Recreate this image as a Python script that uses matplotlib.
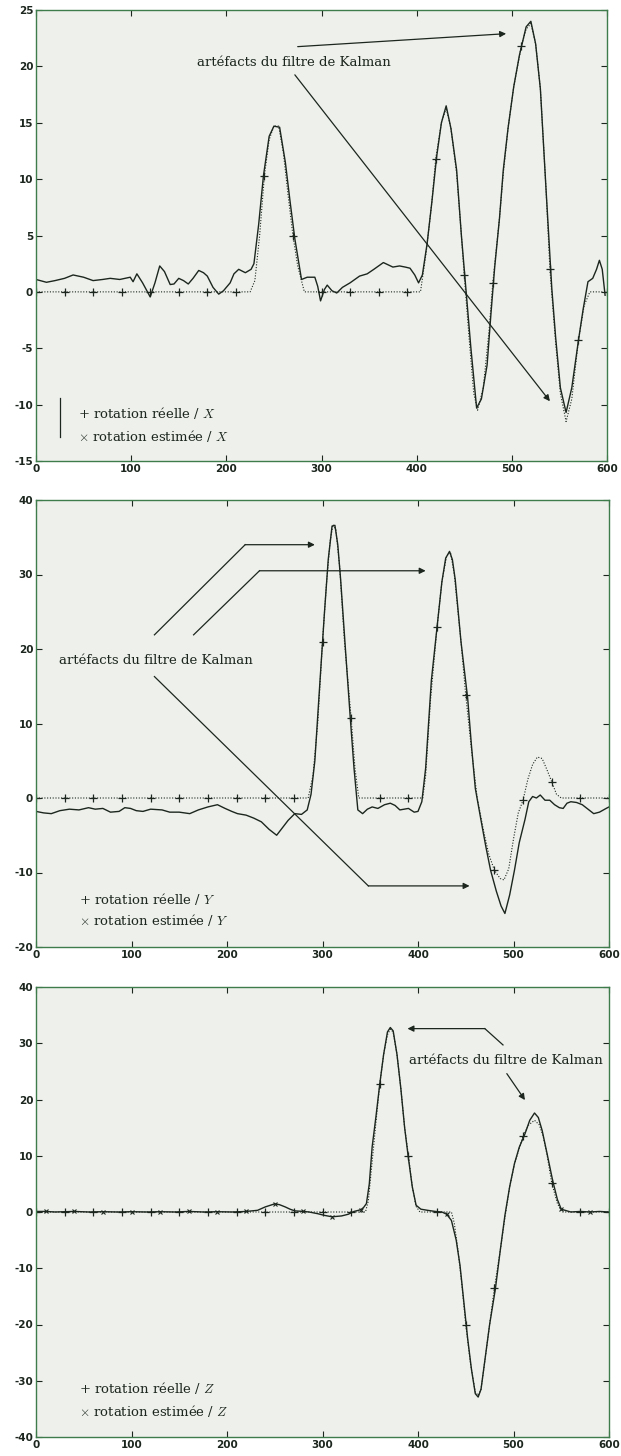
import matplotlib
matplotlib.use('Agg')
import matplotlib.pyplot as plt

plt.rcParams['axes.unicode_minus'] = False
plt.rcParams['mathtext.fontset'] = 'cm'

# ---- axe X ----
rx1 = [0, 30, 60, 90, 120, 150, 180, 210, 225, 230, 235, 240, 245, 250, 255, 260, 265, 270, 275, 282,
       300, 330, 360, 390, 404, 410, 416, 420, 426, 431, 436, 442, 447, 450, 455, 460, 464, 470, 476, 480,
       487, 491, 496, 502, 510, 515, 520, 525, 530, 536, 540, 546, 551, 557, 563, 570, 576, 582, 600]
ry1 = [0, 0, 0, 0, 0, 0, 0, 0, 0, 1.0, 5.0, 10.3, 13.5, 14.7, 14.7, 12.3, 8.5, 5.0, 2.3, 0,
       0, 0, 0, 0, 0, 3.5, 8.0, 11.8, 15.0, 16.3, 14.5, 10.5, 5.0, 1.5, -4.0, -9.0, -10.5, -8.5, -3.5, 0.8,
       6.5, 10.5, 14.5, 18.2, 21.8, 23.3, 23.8, 22.0, 18.0, 9.0, 2.0, -4.5, -9.0, -11.5, -9.5, -4.3, -1.2, 0, 0]

ex1 = [0, 11, 20, 30, 39, 50, 60, 70, 78, 88, 99, 102, 106, 112, 120, 125, 130, 135, 141, 145,
       150, 155, 160, 165, 171, 176, 180, 186, 192, 197, 204, 208, 213, 220, 226, 229, 234, 239, 245, 250,
       256, 262, 267, 272, 279, 285, 293, 296, 299, 303, 306, 311, 316, 322, 330, 340, 348, 355, 360, 365,
       370, 375, 382, 388, 393, 398, 402, 406, 411, 416, 421, 426, 431, 436, 442, 447, 452, 457, 463, 468,
       474, 478, 482, 487, 491, 496, 502, 508, 515, 520, 525, 530, 536, 542, 546, 551, 557, 563, 570, 575,
       580, 585, 589, 592, 595, 598]
ey1 = [1.1, 0.85, 1.0, 1.2, 1.5, 1.3, 1.0, 1.1, 1.2, 1.1, 1.3, 0.9, 1.6, 0.8, -0.45, 0.8, 2.3, 1.8, 0.65, 0.7,
       1.2, 1.0, 0.7, 1.2, 1.9, 1.7, 1.4, 0.4, -0.2, 0.1, 0.8, 1.6, 2.0, 1.7, 2.0, 2.5, 6.0, 10.3, 13.8, 14.7,
       14.6, 11.5, 8.0, 4.7, 1.1, 1.3, 1.3, 0.5, -0.8, 0.2, 0.6, 0.1, -0.1, 0.4, 0.8, 1.4, 1.6, 2.0, 2.3, 2.6,
       2.4, 2.2, 2.3, 2.2, 2.1, 1.5, 0.8, 1.5, 4.3, 8.0, 12.0, 15.0, 16.5, 14.5, 10.8, 5.0, 0.0, -5.0, -10.3, -9.5,
       -6.5, -2.0, 2.2, 6.5, 10.8, 14.5, 18.2, 21.0, 23.5, 24.0, 22.0, 18.0, 9.0, 0.3, -4.0, -8.5, -10.7, -8.5, -4.3, -1.5,
       0.9, 1.2, 2.0, 2.8, 2.0, -0.3]

# ---- axe Y ----
rx2 = [0, 30, 60, 90, 120, 150, 180, 210, 240, 270, 285, 290, 295, 300, 304, 308, 311, 314, 318, 323,
       330, 334, 338, 360, 390, 405, 408, 413, 420, 425, 430, 434, 438, 445, 450, 456, 462, 468, 474, 480,
       486, 490, 495, 500, 505, 510, 515, 520, 525, 530, 535, 540, 545, 550, 570, 600]
ry2 = [0, 0, 0, 0, 0, 0, 0, 0, 0, 0, 0, 3.0, 10.0, 21.0, 28.5, 34.5, 36.7, 36.0, 31.0, 21.0,
       10.7, 4.0, 0, 0, 0, 0, 3.0, 13.0, 23.0, 29.0, 32.5, 33.0, 30.0, 21.0, 13.8, 6.5, 0, -4.0, -7.5, -9.7,
       -10.8, -11.0, -9.5, -5.5, -2.0, -0.3, 2.5, 4.5, 5.5, 5.3, 3.8, 2.2, 0.5, 0, 0, 0]

ex2 = [0, 8, 16, 25, 35, 45, 55, 62, 70, 78, 87, 93, 99, 105, 112, 120, 132, 140, 150, 161,
       170, 180, 190, 198, 205, 211, 220, 228, 236, 244, 252, 258, 264, 271, 278, 284, 288, 292, 296, 302,
       306, 310, 313, 316, 319, 324, 329, 333, 337, 342, 347, 352, 358, 365, 371, 376, 381, 390, 396, 400,
       404, 408, 414, 420, 425, 429, 433, 436, 439, 445, 452, 456, 460, 466, 471, 476, 482, 487, 491, 496,
       501, 506, 512, 516, 520, 524, 528, 533, 538, 543, 548, 552, 556, 560, 566, 572, 578, 584, 590, 597, 600]
ey2 = [-1.8, -2.0, -2.1, -1.7, -1.5, -1.6, -1.3, -1.5, -1.4, -1.9, -1.8, -1.3, -1.4, -1.7, -1.8, -1.5, -1.6, -1.9, -1.9, -2.1,
       -1.6, -1.2, -0.9, -1.4, -1.8, -2.1, -2.3, -2.7, -3.2, -4.2, -5.0, -4.0, -3.0, -2.1, -2.2, -1.6, 0.5, 5.0, 13.0, 24.8,
       32.0, 36.5, 36.6, 34.0, 29.3, 20.0, 10.9, 4.0, -1.6, -2.1, -1.5, -1.2, -1.4, -0.9, -0.7, -1.0, -1.6, -1.4, -1.9, -1.8,
       -0.5, 4.0, 15.8, 23.0, 29.0, 32.2, 33.1, 32.0, 29.3, 21.0, 13.4, 7.0, 1.3, -3.0, -6.5, -9.7, -12.5, -14.5, -15.5, -13.0,
       -9.7, -6.0, -2.9, -0.5, 0.2, 0.0, 0.4, -0.3, -0.3, -0.9, -1.3, -1.4, -0.7, -0.5, -0.6, -0.9, -1.5, -2.1, -1.9, -1.4, -1.2]

# ---- axe Z ----
rx3 = [0, 30, 60, 90, 120, 150, 180, 210, 240, 270, 300, 330, 345, 348, 352, 356, 360, 364, 368, 371,
       374, 378, 382, 386, 390, 394, 398, 402, 420, 435, 438, 442, 446, 450, 455, 460, 463, 466, 470, 475,
       480, 486, 491, 496, 501, 506, 510, 516, 522, 527, 531, 535, 540, 546, 551, 570, 600]
ry3 = [0, 0, 0, 0, 0, 0, 0, 0, 0, 0, 0, 0, 0, 2.0, 9.0, 16.0, 22.8, 28.0, 31.5, 32.5,
       32.0, 28.0, 22.0, 15.0, 10.0, 4.5, 1.0, 0, 0, 0, -2.0, -7.0, -13.0, -20.0, -27.0, -32.0, -32.6, -31.5, -26.5, -20.0,
       -13.5, -7.0, -1.0, 4.5, 8.5, 11.3, 13.5, 15.5, 16.3, 15.5, 13.5, 10.3, 5.2, 1.5, 0, 0, 0]

ex3 = [0, 10, 20, 40, 55, 70, 85, 100, 115, 130, 145, 160, 175, 190, 205, 220, 232, 240, 250, 255,
       261, 266, 271, 280, 286, 295, 302, 310, 320, 327, 333, 340, 343, 346, 349, 352, 356, 360, 364, 368,
       371, 374, 378, 382, 386, 390, 394, 398, 403, 410, 418, 425, 430, 435, 440, 444, 448, 452, 456, 460,
       463, 466, 470, 475, 481, 486, 491, 496, 501, 506, 512, 517, 522, 526, 530, 535, 541, 546, 550, 560,
       570, 580, 590, 600]
ey3 = [0.1, 0.1, 0.0, 0.1, 0.0, 0.05, 0.0, 0.05, 0.0, 0.05, 0.0, 0.1, 0.0, 0.05, 0.0, 0.1, 0.3, 0.9, 1.45, 1.3,
       0.9, 0.5, 0.2, 0.1, 0.0, -0.3, -0.6, -0.85, -0.7, -0.4, 0.1, 0.4, 0.8, 1.5, 5.0, 11.6, 17.0, 22.8, 28.0, 32.0,
       32.8, 32.2, 28.0, 22.0, 15.0, 9.5, 4.5, 1.2, 0.5, 0.3, 0.1, 0.0, -0.4, -1.5, -5.0, -9.5, -16.0, -22.5, -28.0, -32.3,
       -32.9, -31.5, -26.4, -20.0, -13.7, -7.0, -0.6, 4.5, 8.6, 11.5, 13.9, 16.3, 17.6, 16.8, 14.5, 10.5, 5.6, 2.2, 0.5, 0.0,
       0.1, 0.0, 0.1, 0.0]

axis_names = ['X', 'Y', 'Z']
ylims = [(-15, 25), (-20, 40), (-40, 40)]
ysteps = [5, 10, 10]
label_real = r'+ rotation réelle / $%s$'
label_est = r'$\times$ rotation estimée / $%s$'
note = 'artéfacts du filtre de Kalman'

ink = '#1c261e'
spine = '#3f7c4c'
bg = '#eef0ec'
serif = ['DejaVu Serif']
fs = 9.5

fig = plt.figure(figsize=(6.21, 14.56), dpi=100)
fig.patch.set_facecolor('white')
W, H = 621.0, 1456.0
boxes = [(36, 10, 607, 461), (36, 500, 609, 947), (36, 987, 609, 1437)]
axes = []
for (l, t, r, b) in boxes:
    axes.append(fig.add_axes([l / W, 1 - b / H, (r - l) / W, (b - t) / H]))

data = [(rx1, ry1, ex1, ey1), (rx2, ry2, ex2, ey2), (rx3, ry3, ex3, ey3)]

for i, ax in enumerate(axes):
    rx, ry, ex, ey = data[i]
    ax.set_facecolor(bg)
    marks = [k for k, x in enumerate(rx) if x % 30 == 0]
    ax.plot(rx, ry, color=ink, lw=0.8, ls=(0, (1, 1.5)), marker='+', ms=6, mew=0.9,
            markevery=marks)
    ax.plot(ex, ey, color=ink, lw=1.0)
    if i == 2:
        xmarks = [k for k, x in enumerate(ex) if x % 30 == 10 and abs(ey[k]) < 2]
        ax.plot(ex, ey, ls='none', color=ink, marker='x', ms=3.5, mew=0.8, markevery=xmarks)

    ax.set_xlim(0, 600)
    ax.set_ylim(*ylims[i])
    ax.set_xticks(range(0, 601, 100))
    ax.set_yticks(range(ylims[i][0], ylims[i][1] + 1, ysteps[i]))
    ax.tick_params(direction='in', length=4, width=0.8, top=True, right=True, color=ink,
                   labelsize=7.5, labelcolor=ink, pad=2)
    for lab in ax.get_xticklabels() + ax.get_yticklabels():
        lab.set_fontweight('bold')
    for s in ax.spines.values():
        s.set_color(spine)
        s.set_linewidth(1.0)

    name = axis_names[i]
    lx = [44, 45, 45][i]
    ly = [(-10.7, -12.8), (-13.6, -16.4), (-31.2, -35.3)][i]
    ax.text(lx, ly[0], label_real % name, family=serif, fontsize=fs, color=ink, va='center')
    ax.text(lx, ly[1], label_est % name, family=serif, fontsize=fs, color=ink, va='center')

arrow = dict(arrowstyle='-|>', color=ink, lw=0.9, mutation_scale=9, shrinkA=0, shrinkB=0)
line = dict(color=ink, lw=0.9)

# panneau X
ax = axes[0]
ax.plot([25, 25], [-9.4, -12.9], **line)
ax.text(169, 20.3, note, family=serif, fontsize=fs, color=ink, ha='left', va='center')
ax.annotate('', xy=(494, 22.9), xytext=(275, 21.75), arrowprops=arrow)
ax.annotate('', xy=(540, -9.7), xytext=(272, 19.25), arrowprops=arrow)

# panneau Y
ax = axes[1]
ax.text(24, 18.5, note, family=serif, fontsize=fs, color=ink, ha='left', va='center')
ax.plot([124, 219], [21.9, 34.0], **line)
ax.annotate('', xy=(292, 34.0), xytext=(219, 34.0), arrowprops=arrow)
ax.plot([165, 234], [21.9, 30.5], **line)
ax.annotate('', xy=(408, 30.5), xytext=(234, 30.5), arrowprops=arrow)
ax.plot([124, 348], [16.3, -11.8], **line)
ax.annotate('', xy=(454, -11.8), xytext=(348, -11.8), arrowprops=arrow)

# panneau Z
ax = axes[2]
ax.text(391, 27, note, family=serif, fontsize=fs, color=ink, ha='left', va='center',
        clip_on=True)
ax.annotate('', xy=(389, 32.6), xytext=(470, 32.6), arrowprops=arrow)
ax.plot([470, 489], [32.6, 29.7], **line)
ax.annotate('', xy=(512, 19.9), xytext=(493, 24.6), arrowprops=arrow)

fig.savefig('out.png', dpi=100, facecolor='white')
